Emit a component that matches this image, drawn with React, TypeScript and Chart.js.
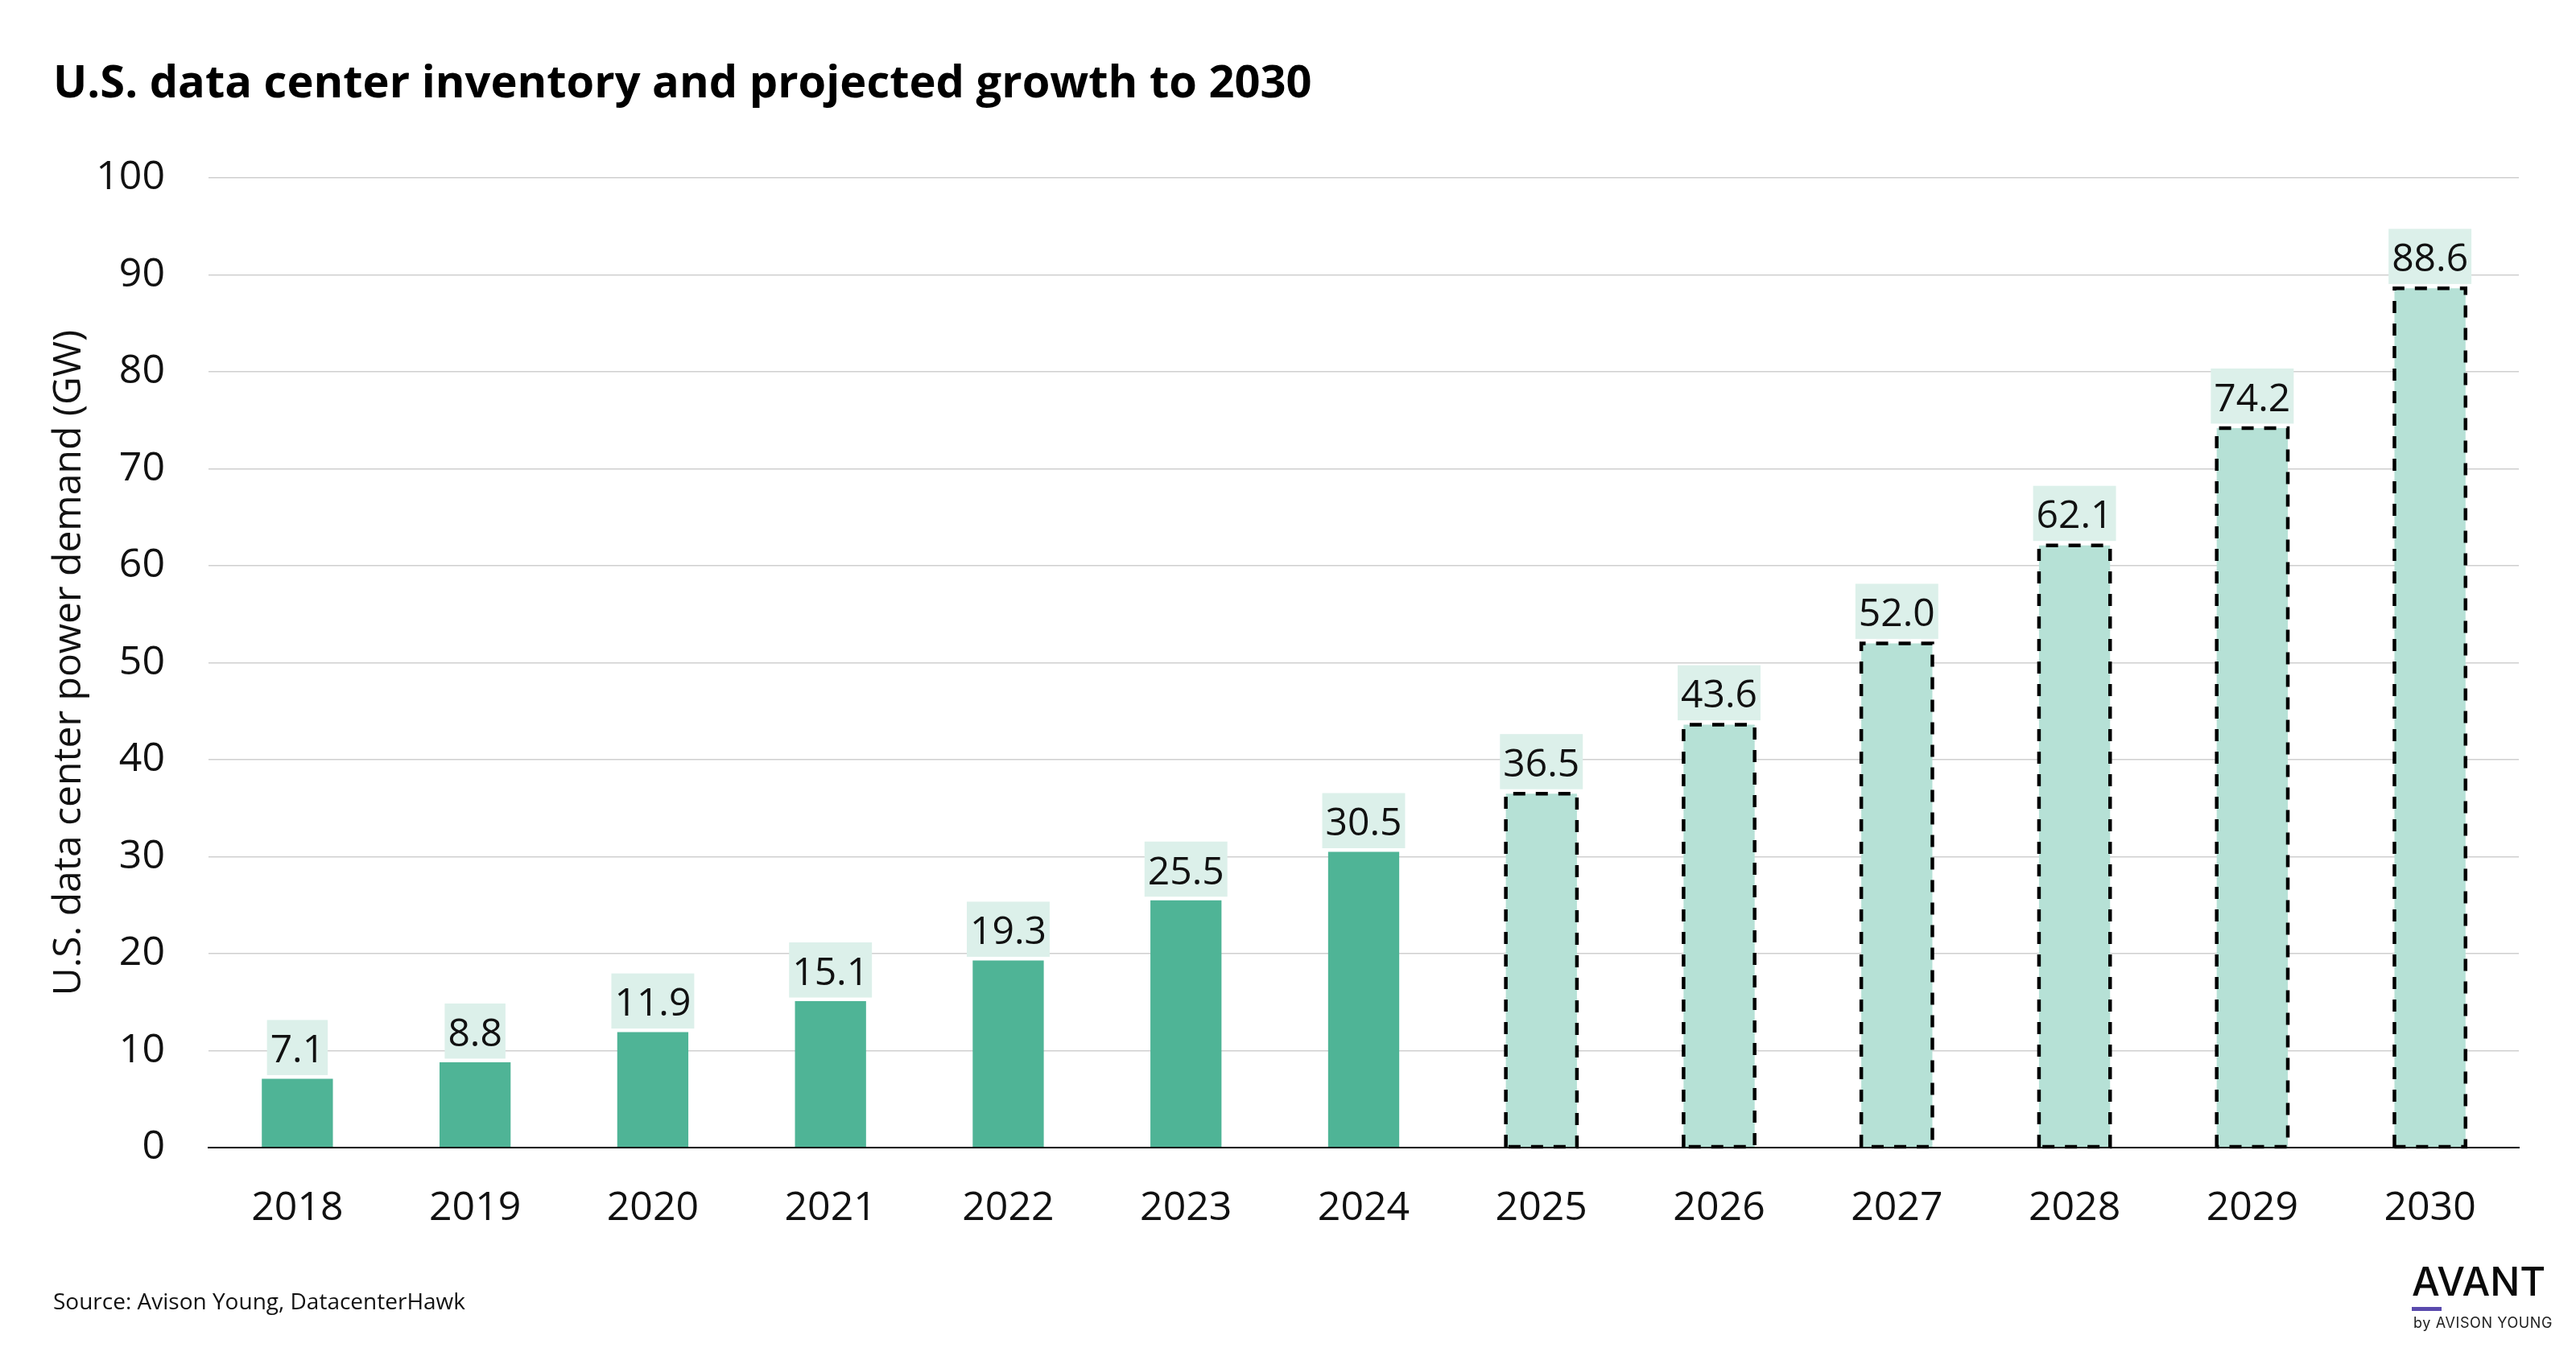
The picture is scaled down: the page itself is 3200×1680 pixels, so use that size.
import React, { useEffect, useRef } from 'react';
import { Chart, registerables } from 'chart.js';

Chart.register(...registerables);

// ---- Data ----
const years: string[] = ['2018', '2019', '2020', '2021', '2022', '2023', '2024', '2025', '2026', '2027', '2028', '2029', '2030'];
const demandGW: number[] = [7.1, 8.8, 11.9, 15.1, 19.3, 25.5, 30.5, 36.5, 43.6, 52.0, 62.1, 74.2, 88.6];
const projected: boolean[] = [false, false, false, false, false, false, false, true, true, true, true, true, true];
const yMin = 0;
const yMax = 100;
const yStep = 10;

const titleText = 'U.S. data center inventory and projected growth to 2030';
const yAxisTitle = 'U.S. data center power demand (GW)';
const sourceText = 'Source: Avison Young, DatacenterHawk';

// ---- Styles ----
const solidColor = '#4fb496';
const projectedColor = '#b6e1d6';
const labelBg = '#dcf0ea';
const gridColor = '#cfcfcf';
const FONT = '"Open Sans", "Noto Sans", sans-serif';

const decorPlugin = {
  id: 'barDecor',
  afterDatasetsDraw(chart: any) {
    const ctx = chart.ctx;
    const meta = chart.getDatasetMeta(0);
    meta.data.forEach((bar: any, i: number) => {
      const { x, y, base, width } = bar.getProps(['x', 'y', 'base', 'width'], true);
      if (projected[i]) {
        ctx.save();
        ctx.setLineDash([15, 13]);
        ctx.lineWidth = 4.5;
        ctx.strokeStyle = '#000';
        ctx.beginPath();
        ctx.moveTo(x - width / 2, base);
        ctx.lineTo(x - width / 2, y);
        ctx.lineTo(x + width / 2, y);
        ctx.lineTo(x + width / 2, base);
        ctx.lineTo(x - width / 2, base);
        ctx.stroke();
        ctx.restore();
      }
      ctx.save();
      ctx.font = `48px ${FONT}`;
      const text = demandGW[i].toFixed(1);
      const tw = ctx.measureText(text).width;
      const bw = tw + 8;
      const bh = 68.5;
      const bottom = y - (projected[i] ? 5.5 : 4.5);
      ctx.fillStyle = labelBg;
      ctx.fillRect(x - bw / 2, bottom - bh, bw, bh);
      ctx.fillStyle = '#111';
      ctx.textAlign = 'center';
      ctx.textBaseline = 'alphabetic';
      ctx.fillText(text, x, bottom - 15.7);
      ctx.restore();
    });
  },
};

function BarChart() {
  const ref = useRef<HTMLCanvasElement | null>(null);
  useEffect(() => {
    if (!ref.current) return;
    const chart = new Chart(ref.current, {
      type: 'bar',
      data: {
        labels: years,
        datasets: [
          {
            data: demandGW,
            backgroundColor: projected.map((p) => (p ? projectedColor : solidColor)),
            borderWidth: 0,
            barPercentage: 0.4,
            categoryPercentage: 1.0,
          },
        ],
      },
      options: {
        responsive: false,
        animation: false,
        devicePixelRatio: 1,
        layout: { padding: { left: 20, top: 221, right: 71, bottom: 55 } },
        plugins: {
          legend: { display: false },
          tooltip: { enabled: false },
          title: { display: false },
        },
        scales: {
          x: {
            grid: { display: false, drawTicks: false },
            border: { display: true, color: '#000', width: 2 },
            ticks: {
              color: '#111',
              font: { family: FONT, size: 50 },
              padding: 46,
            },
            afterFit: (s: any) => {
              s.height = 199;
            },
          },
          y: {
            min: yMin,
            max: yMax,
            grid: {
              drawTicks: false,
              color: (c: any) => (c.tick && c.tick.value === 0 ? '#000' : gridColor),
              lineWidth: (c: any) => (c.tick && c.tick.value === 0 ? 2 : 1.5),
            },
            border: { display: false },
            ticks: {
              stepSize: yStep,
              color: '#111',
              font: { family: FONT, size: 50 },
              padding: 54,
            },
            title: {
              display: true,
              text: yAxisTitle,
              color: '#111',
              font: { family: FONT, size: 48 },
              padding: { top: 38, bottom: 0 },
            },
            afterFit: (s: any) => {
              s.width = 239;
            },
          },
        },
      },
      plugins: [decorPlugin],
    } as any);
    return () => chart.destroy();
  }, []);
  return <canvas ref={ref} width={3200} height={1680} style={{ width: 3200, height: 1680, display: 'block' }} />;
}

export default function App() {
  return (
    <div style={{ position: 'absolute', left: 0, top: 0, width: 3200, height: 1680, background: '#fff', overflow: 'hidden' }}>
      <BarChart />
      <div
        style={{
          position: 'absolute',
          left: 66,
          top: 71,
          fontFamily: FONT,
          fontWeight: 700,
          fontSize: 56,
          lineHeight: 1,
          color: '#000',
          whiteSpace: 'nowrap',
        }}
      >
        {titleText}
      </div>
      <div
        style={{
          position: 'absolute',
          left: 66,
          top: 1602,
          fontFamily: FONT,
          fontSize: 28,
          lineHeight: 1,
          color: '#111',
          whiteSpace: 'nowrap',
        }}
      >
        {sourceText}
      </div>
      <div style={{ position: 'absolute', left: 2996, top: 1568, whiteSpace: 'nowrap' }}>
        <div style={{ fontFamily: 'Inter, sans-serif', fontWeight: 500, fontSize: 49, lineHeight: 1, color: '#0a0a0a' }}>AVANT</div>
        <div style={{ width: 37, height: 5, background: '#5a4aad', marginTop: 7 }} />
        <div
          style={{
            fontFamily: 'Inter, sans-serif',
            fontWeight: 400,
            fontSize: 18,
            letterSpacing: 0.6,
            lineHeight: 1,
            color: '#222',
            marginTop: 6,
            marginLeft: 2,
          }}
        >
          by AVISON YOUNG
        </div>
      </div>
    </div>
  );
}
